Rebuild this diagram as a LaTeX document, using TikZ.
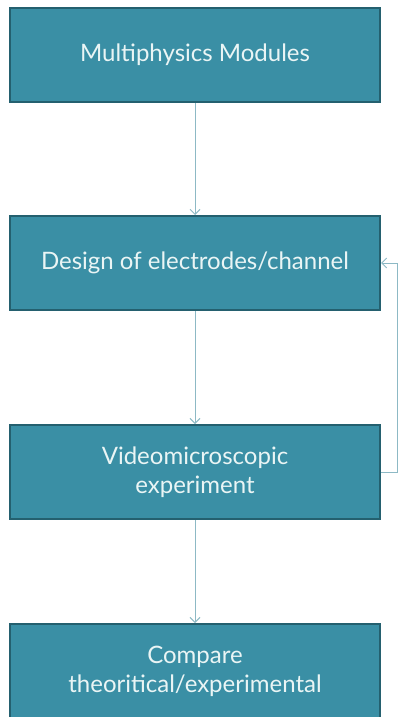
\documentclass[tikz,border=0pt]{standalone}
\usepackage{fontspec}
\setmainfont{Lato}
\usetikzlibrary{arrows.meta}
\definecolor{boxfill}{HTML}{3A8FA5}
\definecolor{boxline}{HTML}{24606F}
\definecolor{arrowc}{HTML}{8DB9C5}
\definecolor{textc}{HTML}{EAF5F5}
\begin{document}
\begin{tikzpicture}[x=1pt,y=-1pt,
  stepbox/.style={draw=boxline, line width=2pt, fill=boxfill, minimum width=370pt, minimum height=94pt,
    text=textc, align=center, font=\fontsize{24}{29}\selectfont, inner sep=0pt},
  conn/.style={draw=arrowc, line width=1pt, -{Straight Barb[length=5pt,width=10pt]}}]
\useasboundingbox (0,0) rectangle (398,717);
\clip (0,0) rectangle (398,717);
\node[stepbox] (m) at (195,55) {Multiphysics Modules};
\node[stepbox] (d) at (195,263) {Design of electrodes/channel};
\node[stepbox] (v) at (195,472) {Videomicroscopic\\experiment};
\node[stepbox] (c) at (195,671) {Compare\\theoritical/experimental};
\path[conn] (m) -- (d);
\path[conn] (d) -- (v);
\path[conn] (v) -- (c);
\coordinate (r1) at (397.5,472);
\coordinate (r2) at (397.5,263);
\path[conn] (v.east) -- (r1) -- (r2) -- (d.east);
\end{tikzpicture}
\end{document}
